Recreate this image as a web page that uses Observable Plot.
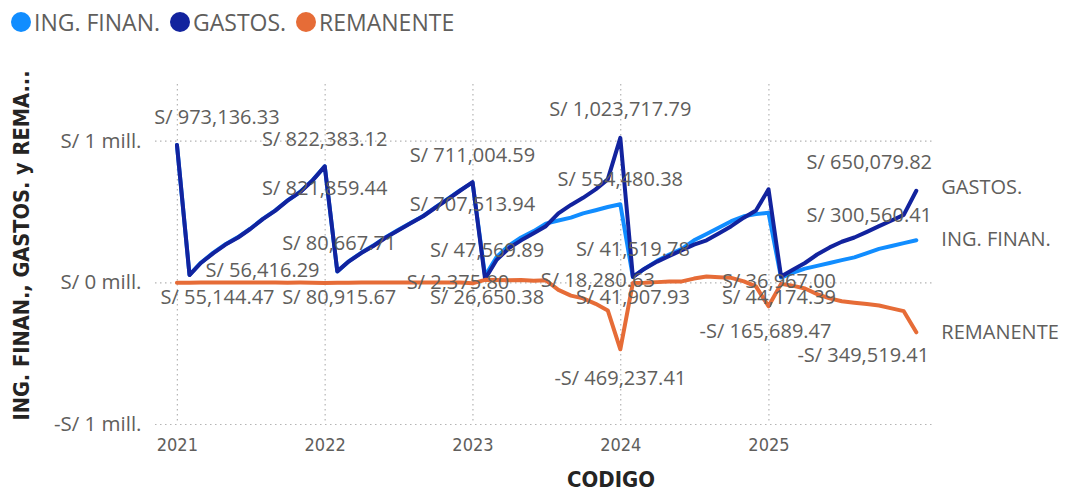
<!DOCTYPE html>
<html><head><meta charset="utf-8">
<script src="https://cdn.jsdelivr.net/npm/d3@7"></script>
<script src="https://cdn.jsdelivr.net/npm/@observablehq/plot@0.6"></script>
<style>
body{margin:0;background:#fff;font-family:"Segoe UI","Open Sans",sans-serif;}
#legend{height:44px;display:flex;align-items:center;padding-left:11px;font-size:23px;color:#605E5C;}
.item{display:flex;align-items:center;margin-right:10px}
.sw{width:20px;height:20px;border-radius:50%;margin-right:3px}
</style></head><body><div id="legend"></div><div id="chart"></div>
<script>
// Series names and colours
const seriesNames = ["ING. FINAN.", "GASTOS.", "REMANENTE"];
const seriesColors = ["#118DFF", "#12239E", "#E66C37"];
const yearTicks = [2021, 2022, 2023, 2024, 2025];
const yTicks = [-1e6, 0, 1e6];
const xTitle = "CODIGO";
const yTitle = "ING. FINAN., GASTOS. y REMA...";

// Month-end values, Dec 2020 .. Dec 2025 (61 points)
const gastos = [973136.33,
  55144.47,140000,210000,270000,320000,380000,450000,510000,580000,640000,720000,822383.12,
  80915.67,150000,210000,260000,320000,370000,420000,470000,530000,590000,650000,711004.59,
  26650.38,160000,245000,300000,350000,400000,490000,550000,600000,660000,730000,1023717.79,
  41907.93,100000,150000,190000,230000,270000,300000,350000,400000,460000,510000,660000,
  44174.39,90000,140000,200000,250000,290000,320000,360000,400000,440000,480000,650079.82];
const ingFinan = [973136.33,
  56416.29,142000,213000,272500,323000,382000,451500,512000,581000,641500,721000,821859.44,
  80667.71,151000,212000,263000,322500,373000,422000,471500,532500,593000,652375.80,707513.94,
  47569.89,180000,263000,320000,365000,418280.63,440000,460000,490000,512000,535000,554480.38,
  41519.78,100000,155000,200000,240000,300000,345000,390000,435000,470000,485000,494310.53,
  36967.00,70000,100000,120000,140000,160000,180000,210000,240000,260000,280000,300560.41];
const remanente = [0,
  1271.82,2000,3000,2500,3000,2000,1500,2000,1000,1500,1000,-523.68,
  -247.96,1000,2000,3000,2500,3000,2000,1500,2500,3000,2375.80,-3490.65,
  20919.51,20000,18000,20000,15000,18280.63,-50000,-90000,-110000,-148000,-195000,-469237.41,
  -388.15,0,5000,10000,10000,30000,45000,40000,35000,10000,-25000,-165689.47,
  -7207.39,-20000,-40000,-80000,-110000,-130000,-140000,-150000,-160000,-180000,-200000,-349519.41];
const seriesValues = [ingFinan, gastos, remanente];

// Data labels: series index, point index
const labelSeries = [1,1,0,1,0,0,1,1,0,0,1,2,1,0,0,1,2,2,0,1,2,1,0,2];
const labelPoint  = [0,1,1,12,12,13,13,24,24,25,25,23,36,36,37,37,30,36,49,49,48,60,60,60];
// label placement offsets (layout)
const labelDx = [40,28,73,0,0,2,2,0,0,2,2,-2,0,0,0,0,52,0,-2,-2,-3,-47,-47,-53];
const labelDy = [-27,23,-4,-27,22,-28,26,-27,22,-26,19,0,-28,-25,-27,21,0,29,4,21,25,-28,-25,23];

const months = d3.utcMonth.range(new Date(Date.UTC(2021,0,1)), new Date(Date.UTC(2026,1,1)));
const dates = months.map(m => new Date(+m - 864e5));

const rows = seriesValues.map((vals, s) => vals.map((v, i) => ({date: dates[i], value: v, s})));
const fmtVal = v => (v < 0 ? "-S/ " : "S/ ") + d3.format(",.2f")(Math.abs(v));
const fmtAxis = v => (v < 0 ? "-S/ " : "S/ ") + Math.abs(v / 1e6) + " mill.";
const yearDates = yearTicks.map(y => new Date(Date.UTC(y, 0, 1)));

// legend
const lg = d3.select("#legend");
seriesNames.forEach((n, i) => {
  const it = lg.append("div").attr("class", "item");
  it.append("div").attr("class", "sw").style("background", seriesColors[i]);
  it.append("span").text(n);
});

const labelFont = {fontSize: 20, fill: "#605E5C", fontFamily: "Segoe UI, Open Sans, sans-serif"};
const labelMarks = labelSeries.map((s, k) => {
  const i = labelPoint[k];
  const d = {date: dates[i], value: seriesValues[s][i]};
  return Plot.text([d], {x: "date", y: "value", text: dd => fmtVal(dd.value), dx: labelDx[k], dy: labelDy[k], ...labelFont});
});
const endLabels = seriesNames.map((n, s) => Plot.text([{date: dates[60], value: seriesValues[s][60]}],
  {x: "date", y: "value", text: () => n, textAnchor: "start", dx: 25, dy: [-1, -3, 0][s], ...labelFont}));

const gridStyle = {stroke: "#b4b4b4", strokeOpacity: 1, strokeDasharray: "1.5,3.5", strokeWidth: 1.2};
const titleFont = "Liberation Sans Narrow, DejaVu Sans Condensed, Roboto, sans-serif";

const svg = Plot.plot({
  width: 1069, height: 447,
  marginLeft: 155, marginRight: 137, marginTop: 40, marginBottom: 67,
  style: {fontFamily: "Segoe UI, Open Sans, sans-serif", background: "#fff", overflow: "visible"},
  x: {type: "utc", domain: [new Date(Date.UTC(2020,10,8)), new Date(Date.UTC(2026,1,9))], label: null},
  y: {domain: [-1e6, 1.4e6], label: null},
  marks: [
    Plot.gridX(yearDates, gridStyle),
    Plot.gridY(yTicks, gridStyle),
    Plot.axisX(yearDates, {tickSize: 0, tickPadding: 14, tickFormat: d3.utcFormat("%Y"), fontSize: 18, fill: "#605E5C", fontFamily: titleFont}),
    Plot.axisY(yTicks, {tickSize: 0, tickPadding: 14, tickFormat: fmtAxis, fontSize: 20.5, fill: "#605E5C"}),
    Plot.line(rows[0], {x: "date", y: "value", stroke: seriesColors[0], strokeWidth: 4}),
    Plot.line(rows[1], {x: "date", y: "value", stroke: seriesColors[1], strokeWidth: 4}),
    Plot.line(rows[2], {x: "date", y: "value", stroke: seriesColors[2], strokeWidth: 4}),
    ...labelMarks,
    ...endLabels,
    Plot.text([xTitle], {frameAnchor: "bottom", text: d => d, dx: 67, dy: 62, fontSize: 22, fontWeight: "bold", fill: "#252423", fontFamily: titleFont}),
    Plot.text([yTitle], {frameAnchor: "left", textAnchor: "middle", text: d => d, rotate: -90, dx: -133, dy: -9, fontSize: 21, fontWeight: "bold", fill: "#252423", fontFamily: titleFont})
  ]
});
document.getElementById("chart").appendChild(svg);
// fit the condensed titles to the reference widths
d3.select(svg).selectAll("text").each(function() {
  const t = this.textContent;
  if (t === yTitle) d3.select(this).attr("textLength", 350).attr("lengthAdjust", "spacingAndGlyphs");
  if (t === xTitle) d3.select(this).attr("textLength", 88).attr("lengthAdjust", "spacingAndGlyphs");
});
</script></body></html>
